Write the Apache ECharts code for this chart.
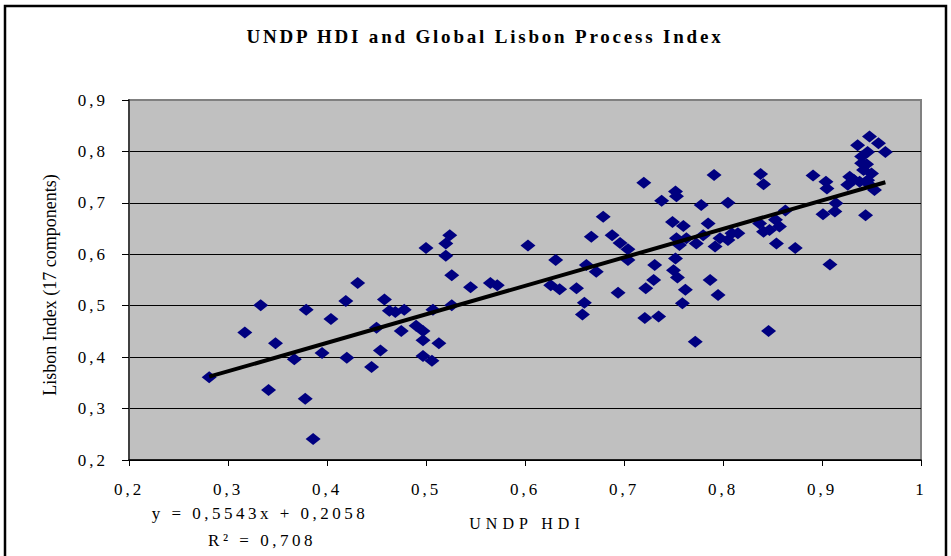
<!DOCTYPE html>
<html>
<head>
<meta charset="utf-8">
<script src="https://cdn.jsdelivr.net/npm/echarts@6/dist/echarts.min.js"></script>
<style>
html,body{margin:0;padding:0;background:#fff;}
#chart{width:951px;height:556px;}
</style>
</head>
<body>
<div id="chart"></div>
<script>
// UNDP HDI (x) and Lisbon Index (y)
const hdi = [
0.281,0.317,0.333,0.341,0.348,0.367,0.378,0.379,0.386,0.395,
0.404,0.419,0.420,0.431,0.445,0.450,0.454,0.458,0.463,0.469,
0.475,0.478,0.490,0.497,0.497,0.497,0.506,0.507,0.513,0.526,
0.500,0.524,0.520,0.520,0.526,0.545,0.565,0.572,0.603,0.631,
0.626,0.635,0.652,0.660,0.658,0.662,0.672,0.667,0.679,0.688,
0.696,0.704,0.704,0.694,0.722,0.730,0.731,0.721,0.735,0.720,
0.738,0.752,0.753,0.749,0.760,0.753,0.763,0.756,0.752,0.750,
0.754,0.762,0.759,0.772,0.778,0.791,0.785,0.773,0.780,0.792,
0.797,0.805,0.809,0.815,0.805,0.787,0.795,0.838,0.841,0.837,
0.841,0.853,0.863,0.854,0.873,0.846,0.847,0.857,0.891,0.904,
0.905,0.901,0.913,0.914,0.908,0.944,0.948,0.936,0.957,0.964,
0.940,0.942,0.928,0.926,0.938,0.946,0.950,0.953,0.946,0.940,
0.945,0.932,0.948
];
const lisbon = [
0.361,0.448,0.501,0.336,0.427,0.396,0.319,0.492,0.241,0.408,
0.474,0.509,0.399,0.544,0.381,0.457,0.413,0.512,0.490,0.488,
0.451,0.492,0.461,0.451,0.433,0.402,0.393,0.492,0.427,0.501,
0.612,0.637,0.621,0.597,0.559,0.536,0.544,0.540,0.617,0.589,
0.540,0.532,0.534,0.506,0.483,0.579,0.566,0.634,0.673,0.637,
0.622,0.610,0.589,0.525,0.534,0.550,0.579,0.476,0.479,0.739,
0.704,0.722,0.713,0.663,0.655,0.631,0.631,0.618,0.592,0.569,
0.555,0.531,0.505,0.430,0.696,0.754,0.660,0.621,0.637,0.615,
0.631,0.628,0.641,0.641,0.700,0.550,0.521,0.756,0.736,0.660,
0.644,0.667,0.685,0.621,0.612,0.451,0.647,0.654,0.753,0.741,
0.728,0.678,0.683,0.699,0.580,0.676,0.829,0.812,0.816,0.799,
0.777,0.764,0.751,0.735,0.741,0.744,0.757,0.725,0.799,0.790,
0.775,0.745,0.735
];
// trend line end points (y = 0,5543x + 0,2058)
const trendX = [0.281, 0.964];
const trendY = [0.362, 0.740];
const xTicks = ['0,2','0,3','0,4','0,5','0,6','0,7','0,8','0,9','1'];
const yTicks = ['0,2','0,3','0,4','0,5','0,6','0,7','0,8','0,9'];
const titleText = 'UNDP HDI and Global Lisbon Process Index';
const xName = 'UNDP HDI';
const yName = 'Lisbon Index (17 components)';
const eqText = 'y = 0,5543x + 0,2058';
const r2Text = 'R\u00B2 = 0,708';

const points = hdi.map((x, i) => [x, lisbon[i]]);
const trend = trendX.map((x, i) => [x, trendY[i]]);
const serif = "'Liberation Serif', 'Times New Roman', serif";

const chart = echarts.init(document.getElementById('chart'), null, {renderer: 'svg'});
chart.setOption({
  animation: false,
  backgroundColor: '#ffffff',
  grid: {left: 129, right: 30, top: 100, bottom: 96, show: true,
         backgroundColor: '#C0C0C0', borderColor: '#808080', borderWidth: 2},
  xAxis: {
    type: 'value', min: 0.2, max: 1, interval: 0.1,
    axisLine: {show: true, lineStyle: {color: '#000', width: 1.5}},
    axisTick: {show: true, length: 6, lineStyle: {color: '#000'}},
    splitLine: {show: false},
    axisLabel: {margin: 21, color: '#000', fontFamily: serif, fontSize: 17,
      formatter: v => xTicks[Math.round((v - 0.2) * 10)]}
  },
  yAxis: {
    type: 'value', min: 0.2, max: 0.9, interval: 0.1,
    axisLine: {show: true, lineStyle: {color: '#404040', width: 2}},
    axisTick: {show: true, length: 7, lineStyle: {color: '#000'}},
    splitLine: {show: true, lineStyle: {color: ['#000','#000','#000','#000','#000','#000','#000','#808080'], width: 1}},
    axisLabel: {margin: 21, color: '#000', fontFamily: serif, fontSize: 17,
      formatter: v => yTicks[Math.round((v - 0.2) * 10)]}
  },
  graphic: [
    {type: 'rect', z: 100, silent: true,
     shape: {x: 5, y: 6, width: 941, height: 570},
     style: {fill: 'none', stroke: '#000', lineWidth: 2.5}},
    {type: 'text', x: 485, y: 36, z: 100,
     style: {text: titleText, font: "bold 19px " + serif, fill: '#000', align: 'center', verticalAlign: 'middle'}},
    {type: 'text', x: 527, y: 523, z: 100,
     style: {text: xName, font: "16px " + serif, fill: '#000', align: 'center', verticalAlign: 'middle'}},
    {type: 'text', x: 50, y: 285, rotation: Math.PI / 2, z: 100,
     style: {text: yName, font: "18px " + serif, fill: '#000', align: 'center', verticalAlign: 'middle'}},
    {type: 'text', x: 260, y: 513, z: 100,
     style: {text: eqText, font: "17px " + serif, fill: '#000', align: 'center', verticalAlign: 'middle'}},
    {type: 'text', x: 262, y: 540, z: 100,
     style: {text: r2Text, font: "17px " + serif, fill: '#000', align: 'center', verticalAlign: 'middle'}}
  ],
  series: [
    {type: 'scatter', data: points, symbol: 'diamond', symbolSize: [15, 12],
     itemStyle: {color: '#000080', opacity: 1}, z: 2},
    {type: 'line', data: trend, symbol: 'none', z: 3,
     lineStyle: {color: '#000', width: 4}}
  ]
});

function spacing() {
  const map = {};
  map[titleText] = '2.8px';
  map[xName] = '5px';
  map[eqText] = '3.5px';
  map[r2Text] = '3.5px';
  xTicks.concat(yTicks).forEach(t => { map[t] = '3px'; });
  document.querySelectorAll('#chart svg text').forEach(el => {
    const t = el.textContent;
    if (map[t]) el.setAttribute('letter-spacing', map[t]);
  });
}
chart.on('finished', spacing);
setTimeout(spacing, 50);
</script>
</body>
</html>
